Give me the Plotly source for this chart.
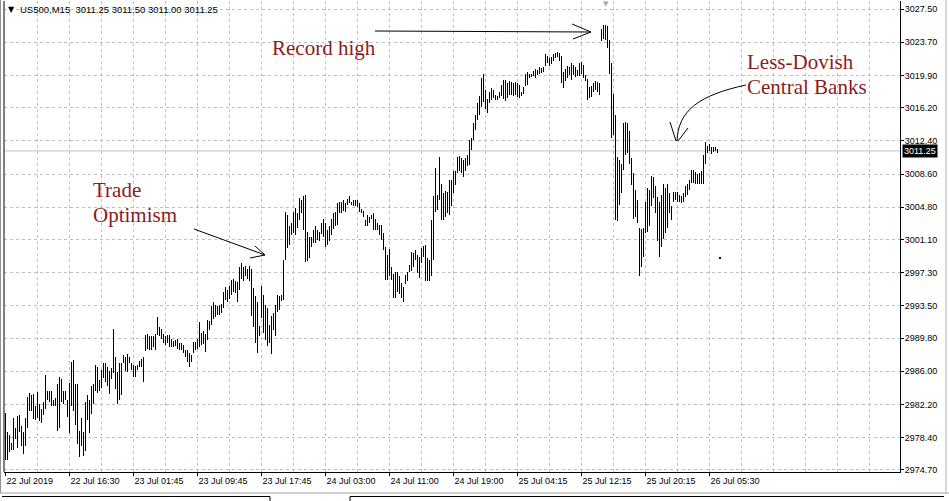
import plotly.graph_objects as go

# ---------------- data (US500, M15) ----------------
highs = [
    2981.2, 2979.0, 2978.7, 2977.8, 2980.6, 2979.5, 2980.9, 2981.0, 2979.7, 2979.0,
    2980.6, 2983.1, 2983.5, 2983.3, 2983.4, 2982.0, 2983.6, 2982.3, 2981.7, 2982.5,
    2985.6, 2983.8, 2983.8, 2983.7, 2982.7, 2983.0, 2984.6, 2985.4, 2985.1, 2983.8,
    2983.7, 2982.7, 2984.7, 2987.1, 2987.3, 2984.6, 2984.5, 2979.2, 2980.6, 2979.0,
    2982.5, 2983.3, 2982.7, 2984.3, 2984.5, 2986.7, 2986.5, 2985.0, 2986.2, 2986.9,
    2986.9, 2986.5, 2986.0, 2986.4, 2990.9, 2987.7, 2985.9, 2986.9, 2987.0, 2987.9,
    2987.6, 2988.0, 2987.7, 2986.9, 2986.7, 2986.6, 2986.7, 2987.2, 2987.4, 2987.7,
    2990.2, 2990.3, 2990.1, 2990.0, 2990.1, 2990.3, 2992.2, 2991.1, 2990.8, 2990.3,
    2990.0, 2990.2, 2990.2, 2989.7, 2989.5, 2989.6, 2989.7, 2989.3, 2989.2, 2989.0,
    2988.5, 2988.4, 2988.1, 2987.9, 2989.4, 2989.4, 2989.7, 2991.7, 2990.4, 2990.6,
    2990.3, 2991.9, 2991.8, 2993.5, 2993.9, 2993.6, 2993.5, 2993.6, 2993.7, 2995.1,
    2995.7, 2995.3, 2995.8, 2996.5, 2996.6, 2996.4, 2996.2, 2997.9, 2998.4, 2997.9,
    2998.1, 2997.7, 2998.1, 2997.7, 2995.6, 2994.6, 2993.9, 2991.2, 2995.8, 2994.8,
    2993.6, 2993.2, 2991.3, 2992.3, 2992.7, 2993.6, 2994.8, 2994.6, 2994.8, 2998.8,
    3004.3, 3003.9, 3002.6, 3003.0, 3004.3, 3004.7, 3004.1, 3005.9, 3005.6, 3006.1,
    3006.2, 3002.0, 3001.4, 3001.4, 3002.2, 3002.6, 3002.2, 3002.0, 3003.0, 3003.4,
    3003.0, 3002.2, 3002.7, 3003.4, 3004.1, 3004.3, 3005.3, 3005.4, 3005.4, 3005.6,
    3005.3, 3005.7, 3006.1, 3005.4, 3005.6, 3005.6, 3005.6, 3005.3, 3004.6, 3004.4,
    3003.3, 3003.9, 3003.7, 3003.9, 3004.1, 3003.4, 3003.0, 3002.8, 3002.8, 3001.9,
    3000.3, 2999.3, 3000.0, 2997.9, 2997.2, 2997.4, 2997.4, 2996.9, 2996.1, 2995.7,
    2997.0, 2997.4, 2998.2, 2999.7, 2999.6, 2999.9, 2999.3, 2999.1, 3000.1, 3000.4,
    3000.5, 2999.0, 2998.8, 3003.3, 3006.1, 3009.3, 3006.2, 3010.6, 3007.5, 3006.4,
    3006.7, 3006.6, 3007.9, 3007.9, 3008.9, 3009.0, 3010.6, 3010.7, 3010.4, 3010.2,
    3010.4, 3010.8, 3012.5, 3012.7, 3014.4, 3015.4, 3016.7, 3017.5, 3019.6, 3020.1,
    3018.2, 3017.2, 3018.0, 3018.4, 3018.2, 3017.7, 3017.5, 3018.0, 3018.8, 3019.4,
    3019.4, 3019.0, 3019.2, 3019.1, 3019.0, 3019.1, 3019.0, 3018.8, 3018.0, 3018.6,
    3020.1, 3020.3, 3020.1, 3020.1, 3020.4, 3020.6, 3020.5, 3020.9, 3020.7, 3020.9,
    3022.4, 3022.1, 3021.9, 3022.0, 3022.4, 3022.5, 3022.6, 3022.5, 3022.1, 3020.3,
    3020.6, 3021.0, 3020.9, 3021.3, 3021.1, 3020.9, 3020.5, 3021.3, 3021.4, 3021.1,
    3019.9, 3019.5, 3018.6, 3018.7, 3019.0, 3019.2, 3019.1, 3019.0, 3025.2, 3025.7,
    3025.7, 3025.5, 3024.0, 3021.3, 3017.8, 3015.4, 3010.6, 3010.2, 3009.8, 3014.4,
    3014.6, 3014.4, 3013.5, 3010.4, 3008.7, 3006.8, 3005.6, 3002.4, 3002.3, 3002.4,
    3005.4, 3007.0, 3006.8, 3008.4, 3008.3, 3007.2, 3006.0, 3005.4, 3006.2, 3007.5,
    3007.0, 3007.5, 3006.4, 3004.9, 3006.6, 3006.5, 3006.5, 3006.2, 3006.1, 3006.4,
    3007.2, 3007.5, 3007.9, 3009.1, 3009.1, 3008.8, 3008.6, 3008.7, 3008.9, 3010.8,
    3012.3, 3011.8, 3012.0, 3011.7, 3011.7, 3011.7, 3011.5,
]
lows = [
    2975.9, 2975.9, 2976.8, 2977.0, 2977.0, 2978.2, 2977.2, 2979.0, 2977.5, 2976.5,
    2977.4, 2979.5, 2981.5, 2981.5, 2980.5, 2980.4, 2980.6, 2980.3, 2980.1, 2981.0,
    2981.7, 2982.7, 2982.5, 2982.0, 2982.0, 2982.0, 2979.2, 2979.5, 2982.5, 2982.3,
    2982.7, 2980.8, 2978.9, 2982.0, 2981.5, 2979.9, 2977.7, 2976.2, 2977.4, 2976.3,
    2976.9, 2980.4, 2978.9, 2981.1, 2982.3, 2983.7, 2983.5, 2983.7, 2984.1, 2985.2,
    2984.8, 2984.3, 2983.4, 2985.1, 2985.8, 2984.0, 2982.3, 2982.7, 2983.3, 2986.9,
    2986.0, 2985.9, 2987.0, 2986.1, 2985.3, 2985.3, 2986.1, 2986.5, 2986.5, 2984.8,
    2988.3, 2988.6, 2988.4, 2988.5, 2988.8, 2988.5, 2990.2, 2990.0, 2989.7, 2989.2,
    2989.0, 2989.3, 2988.8, 2988.8, 2988.8, 2988.9, 2988.6, 2988.5, 2988.5, 2988.1,
    2987.7, 2987.1, 2986.5, 2987.1, 2988.1, 2988.4, 2988.6, 2988.8, 2989.0, 2989.1,
    2988.2, 2989.6, 2990.7, 2991.3, 2992.0, 2992.2, 2992.5, 2992.4, 2992.7, 2993.2,
    2994.2, 2993.9, 2994.3, 2994.8, 2995.1, 2995.0, 2994.0, 2995.3, 2996.6, 2996.4,
    2996.9, 2996.6, 2996.3, 2992.3, 2991.1, 2989.3, 2988.1, 2990.0, 2992.1, 2990.4,
    2989.6, 2988.9, 2989.2, 2988.0, 2990.7, 2990.0, 2992.8, 2993.0, 2994.1, 2994.2,
    2998.8, 3000.1, 3000.5, 3001.6, 3001.8, 3001.6, 3002.4, 3003.3, 3004.1, 3002.2,
    2998.5, 2998.6, 2999.0, 3000.3, 3000.7, 3000.7, 3001.1, 3000.9, 3001.7, 3001.4,
    3000.3, 3000.5, 3000.9, 3001.6, 3002.3, 3002.6, 3002.8, 3004.1, 3004.1, 3004.4,
    3004.3, 3005.1, 3005.3, 3005.1, 3004.9, 3004.9, 3004.8, 3004.3, 3004.1, 3003.7,
    3002.7, 3002.6, 3003.0, 3003.4, 3002.2, 3002.2, 3002.2, 3001.6, 3001.1, 2999.9,
    2996.5, 2996.5, 2996.9, 2996.5, 2994.4, 2994.4, 2995.1, 2994.9, 2994.4, 2993.9,
    2996.0, 2996.4, 2997.4, 2997.5, 2997.9, 2998.8, 2997.3, 2996.7, 2998.4, 2999.1,
    2996.4, 2996.3, 2996.3, 2996.9, 2998.8, 3004.3, 3004.5, 3005.6, 3003.3, 3003.3,
    3003.7, 3004.1, 3003.9, 3004.9, 3006.4, 3007.4, 3008.7, 3008.9, 3008.7, 3008.3,
    3008.9, 3009.5, 3009.6, 3011.4, 3012.5, 3013.6, 3014.8, 3015.4, 3016.3, 3016.9,
    3016.1, 3015.6, 3016.7, 3017.1, 3017.3, 3017.1, 3017.1, 3017.3, 3017.5, 3017.2,
    3017.0, 3017.3, 3017.7, 3017.7, 3017.5, 3017.7, 3017.4, 3017.3, 3017.5, 3017.8,
    3018.7, 3018.8, 3019.6, 3019.7, 3019.8, 3019.6, 3019.9, 3020.1, 3020.2, 3020.3,
    3021.0, 3021.3, 3021.0, 3021.2, 3021.6, 3021.9, 3022.0, 3021.5, 3019.0, 3018.4,
    3019.2, 3019.6, 3019.9, 3019.4, 3019.9, 3019.7, 3019.8, 3019.8, 3020.1, 3019.6,
    3019.3, 3017.1, 3017.3, 3017.4, 3018.0, 3018.2, 3018.0, 3017.7, 3023.8, 3024.1,
    3023.9, 3023.0, 3020.1, 3012.7, 3013.1, 3003.3, 3003.2, 3005.1, 3006.4, 3009.1,
    3010.8, 3011.0, 3009.8, 3007.4, 3003.5, 3003.7, 3003.0, 2996.9, 2998.0, 2999.1,
    3001.8, 3002.0, 3002.6, 3004.9, 3005.8, 3004.1, 3000.9, 2999.1, 3000.3, 3001.2,
    3001.8, 3002.4, 3004.1, 3003.3, 3005.4, 3005.6, 3005.4, 3005.4, 3005.3, 3005.4,
    3006.0, 3006.2, 3006.8, 3007.6, 3007.6, 3007.5, 3007.5, 3007.5, 3007.5, 3007.5,
    3009.8, 3011.0, 3011.2, 3010.9, 3011.1, 3011.2, 3011.0,
]
assert len(highs) == len(lows)

time_tick_bars = [0, 32, 64, 96, 128, 160, 192, 224, 256, 288, 320, 352]
time_tick_labels = ["22 Jul 2019", "22 Jul 16:30", "23 Jul 01:45", "23 Jul 09:45",
                    "23 Jul 17:45", "24 Jul 03:00", "24 Jul 11:00", "24 Jul 19:00",
                    "25 Jul 04:15", "25 Jul 12:15", "25 Jul 20:15", "26 Jul 05:30"]
price_ticks = [3027.50, 3023.70, 3019.90, 3016.20, 3012.40, 3008.60, 3004.80, 3001.10,
               2997.30, 2993.50, 2989.80, 2986.00, 2982.20, 2978.40, 2974.70]
last_bar = [3011.25, 3011.50, 3011.00, 3011.25]   # O H L C
last_price = last_bar[3]

# ---------------- geometry helpers (paper coordinates for decorations) ----------------
W, H = 949, 501
ML, MR, MT, MB = 4, 49, 1, 29
PW, PH = W - ML - MR, H - MT - MB


def px(x):
    return (x - ML) / PW


def py(y):
    return (H - MB - y) / PH


n = len(highs)
xs = list(range(n))

fig = go.Figure()
fig.add_trace(go.Bar(
    x=xs, base=lows, y=[h - l for h, l in zip(highs, lows)], width=0.5,
    marker=dict(color="black", line=dict(width=0)), hoverinfo="skip",
))

grid = dict(gridcolor="#c0c0c0", gridwidth=1, griddash="3px,3px")
axfont = dict(family="Liberation Sans, Arial, sans-serif", size=9, color="black")
minor_x = [v for v in range(16, 448, 16)]

fig.update_layout(
    template="none",
    width=W, height=H, margin=dict(l=ML, r=MR, t=MT, b=MB, pad=0, autoexpand=False),
    paper_bgcolor="white", plot_bgcolor="white", showlegend=False, bargap=0,
    xaxis=dict(range=[-0.75, 447.25], tickvals=time_tick_bars, ticktext=time_tick_labels,
               ticks="outside", ticklen=3, tickcolor="black", tickwidth=1,
               ticklabelposition="outside right", tickfont=axfont, automargin=False,
               showgrid=False, zeroline=False, showline=True, linecolor="black", linewidth=1,
               minor=dict(tickvals=minor_x, showgrid=True, ticks="", **grid),
               fixedrange=True),
    yaxis=dict(side="right", range=[2974.47, 3028.42], tickvals=price_ticks,
               ticktext=[f"{v:.2f}" for v in price_ticks], automargin=False,
               ticks="outside", ticklen=3, tickcolor="black", tickwidth=1, tickfont=axfont,
               ticklabelstandoff=-1,
               showgrid=True, zeroline=False, showline=True, linecolor="black", linewidth=1,
               fixedrange=True, **grid),
)

shapes = []
# current price line
shapes.append(dict(type="line", xref="paper", yref="y", x0=0, x1=1, y0=last_price, y1=last_price,
                   line=dict(color="#c0c0c0", width=1), layer="below"))
# left frame
shapes.append(dict(type="line", xref="paper", yref="paper", x0=0, x1=0, y0=0, y1=1,
                   line=dict(color="black", width=1)))
# window borders
shapes.append(dict(type="line", xref="paper", yref="paper", x0=px(0.5), x1=px(0.5), y0=py(0), y1=py(493),
                   line=dict(color="#909090", width=1)))
shapes.append(dict(type="line", xref="paper", yref="paper", x0=px(946), x1=px(946), y0=py(0), y1=py(493),
                   line=dict(color="#b0b0b0", width=1)))
shapes.append(dict(type="line", xref="paper", yref="paper", x0=px(0), x1=px(949), y0=py(493), y1=py(493),
                   line=dict(color="#a0a0a0", width=1)))
shapes.append(dict(type="line", xref="paper", yref="paper", x0=px(2), x1=px(270), y0=py(496.5), y1=py(496.5),
                   line=dict(color="black", width=1)))
shapes.append(dict(type="line", xref="paper", yref="paper", x0=px(350), x1=px(944), y0=py(496.5), y1=py(496.5),
                   line=dict(color="black", width=1)))
shapes.append(dict(type="line", xref="paper", yref="paper", x0=px(270), x1=px(270), y0=py(496.5), y1=py(501),
                   line=dict(color="black", width=1)))
shapes.append(dict(type="line", xref="paper", yref="paper", x0=px(350), x1=px(350), y0=py(496.5), y1=py(501),
                   line=dict(color="black", width=1)))


def seg(a, b, w=1):
    return dict(type="line", xref="paper", yref="paper", x0=px(a[0]), y0=py(a[1]),
                x1=px(b[0]), y1=py(b[1]), line=dict(color="black", width=w))


# Record high arrow
shapes += [seg((375, 31), (591, 32)), seg((572, 24), (591, 32)), seg((573, 39), (591, 32))]
# Trade optimism arrow
shapes += [seg((194, 229), (265, 255)), seg((255, 246), (265, 255)), seg((250, 258), (265, 255))]
# Less-dovish curved arrow


def P(x, y):
    return f"{px(x):.5f},{py(y):.5f}"


shapes.append(dict(type="path", xref="paper", yref="paper",
                   path=f"M {P(746, 85)} C {P(700, 95)} {P(678, 110)} {P(677, 141)}",
                   line=dict(color="black", width=1)))
shapes += [seg((670, 122), (676, 141)), seg((688, 128), (678, 141))]
# stray dot
shapes.append(dict(type="rect", xref="paper", yref="paper", x0=px(719), x1=px(721), y0=py(259), y1=py(257),
                   fillcolor="black", line=dict(width=0)))
fig.update_layout(shapes=shapes)

red = "#8c1c1c"
serif = "Liberation Serif, Times New Roman, serif"
ann = []


def label(text, x, y, size=21, color=red, family=serif, **kw):
    d = dict(text=text, xref="paper", yref="paper", x=px(x), y=py(y), xanchor="left",
             yanchor="middle", showarrow=False, font=dict(family=family, size=size, color=color))
    d.update(kw)
    ann.append(d)


label("Record high", 270, 48)
label("Trade", 91, 190)
label("Optimism", 91, 215)
label("Less-Dovish", 745, 62)
label("Central Banks", 745, 87)

sans = "Liberation Sans, Arial, sans-serif"
label("\u25bc", 6, 10, size=8, color="black", family="DejaVu Sans")
label("US500,M15\u00a0\u00a0" + " ".join(f"{v:.2f}" for v in last_bar), 18, 10,
      size=9.5, color="black", family=sans)
label("\u25bc", 601, 4, size=7, color="#a8a8a8", family="DejaVu Sans")

ann.append(dict(text=f"{last_price:.2f}", xref="paper", yref="y", x=1, y=last_price,
                xanchor="left", yanchor="middle", xshift=2, showarrow=False,
                bgcolor="black", borderpad=1,
                font=dict(family=sans, size=9, color="white")))
fig.update_layout(annotations=ann)

fig.write_html("out.html", config={"displayModeBar": False, "staticPlot": True})
with open("out.html", encoding="utf-8") as f:
    html = f.read()
html = html.replace("<head>", "<head><style>html,body{margin:0;padding:0;overflow:hidden;}</style>", 1)
with open("out.html", "w", encoding="utf-8") as f:
    f.write(html)
